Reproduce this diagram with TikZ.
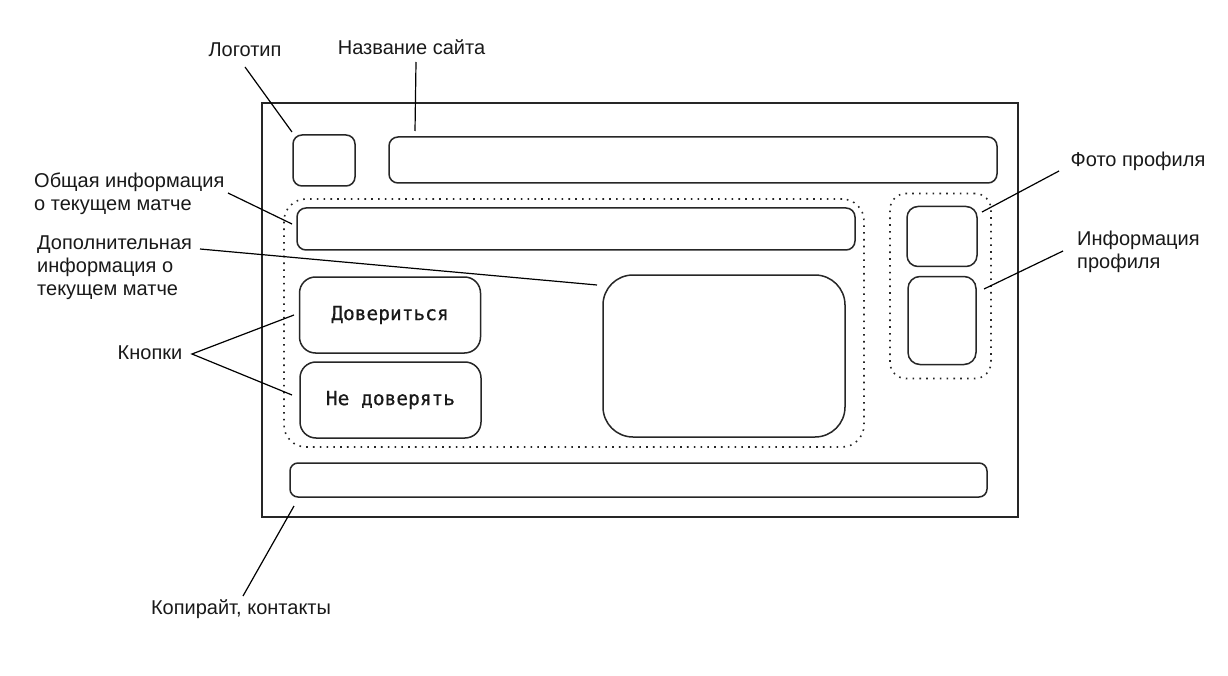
\documentclass[tikz,border=0pt]{standalone}
\usepackage{fontspec}
\setmainfont{Liberation Sans}
\newfontfamily\btnfont[FakeBold=0.6]{DejaVu Sans Mono}
\begin{document}
\begin{tikzpicture}[x=1pt,y=-1pt,
  lbl/.style={font=\fontsize{20}{23}\selectfont, inner sep=0pt, text=black!90},
  rbox/.style={draw=black!85, line width=1.5pt, rounded corners=#1, minimum width=0pt, minimum height=0pt, inner sep=0pt},
  grp/.style={draw=black!85, line width=1.6pt, dash pattern=on 1.6pt off 5.2pt, rounded corners=#1, inner sep=0pt},
  btntext/.style={font=\btnfont\fontsize{19.5}{22}\selectfont, text=black!90},
  lead/.style={draw=black, line width=1.2pt}
]
\useasboundingbox (0,0) rectangle (1228,676);
\fill[white] (0,0) rectangle (1228,676);

% outer frame
\node[draw=black!85, line width=1.6pt, minimum width=756pt, minimum height=414pt, inner sep=0pt] (outer) at (640,310) {};

% header
\node[rbox=9pt, minimum width=62pt, minimum height=51pt] (logo) at (324,160.5) {};
\node[rbox=9pt, minimum width=608pt, minimum height=46pt] (title) at (693,160) {};

% main group
\node[grp=22pt, minimum width=580pt, minimum height=248pt] (grp1) at (574,323) {};
\node[rbox=9pt, minimum width=558pt, minimum height=42pt] (gen) at (576,229) {};
\node[rbox=30pt, minimum width=242pt, minimum height=162pt] (big) at (724,356) {};
\node[rbox=16pt, minimum width=181pt, minimum height=76pt, btntext] (btn1) at (390,315) {Довериться};
\node[rbox=16pt, minimum width=181pt, minimum height=76pt, btntext] (btn2) at (390.5,400) {Не доверять};

% profile group
\node[grp=16pt, minimum width=101pt, minimum height=185pt] (grp2) at (940.5,286) {};
\node[rbox=11pt, minimum width=70pt, minimum height=60pt] (photo) at (942,236.5) {};
\node[rbox=12pt, minimum width=68pt, minimum height=88pt] (pinfo) at (942,320.5) {};

% footer
\node[rbox=8pt, minimum width=697pt, minimum height=34pt] (footer) at (638.5,480) {};

% labels
\node[lbl] (lLogo) at (245,50) {Логотип};
\node[lbl] (lTitle) at (411.5,47) {Название сайта};
\node[lbl, anchor=west, align=left] (lGen) at (34,193.5) {Общая информация\\о текущем матче};
\node[lbl, anchor=west, align=left] (lAdd) at (37,268) {Дополнительная\\информация о\\текущем матче};
\node[lbl] (lBtn) at (150,353) {Кнопки};
\node[lbl] (lPhoto) at (1138,161) {Фото профиля};
\node[lbl, anchor=west, align=left] (lPInfo) at (1077,251.5) {Информация\\профиля};
\node[lbl] (lCopy) at (241,609) {Копирайт, контакты};

% connector end points
\coordinate (cLogoA) at (245,67);
\coordinate (cLogoB) at (292,132);
\coordinate (cTitleA) at (416,62);
\coordinate (cTitleB) at (415,131);
\coordinate (cGenA) at (228,193);
\coordinate (cGenB) at (292,224);
\coordinate (cAddA) at (200,249);
\coordinate (cAddB) at (597,285);
\coordinate (cBtnA) at (192,354);
\coordinate (cBtn1) at (294,315);
\coordinate (cBtn2) at (292,395);
\coordinate (cPhotoA) at (1059,171);
\coordinate (cPhotoB) at (982,212);
\coordinate (cPInfoA) at (1063,251);
\coordinate (cPInfoB) at (984,289);
\coordinate (cCopyA) at (243,596);
\coordinate (cCopyB) at (294,506);

\draw[lead] (cLogoA) -- (cLogoB);
\draw[lead] (cTitleA) -- (cTitleB);
\draw[lead] (cGenA) -- (cGenB);
\draw[lead] (cAddA) -- (cAddB);
\draw[lead] (cBtn1) -- (cBtnA) -- (cBtn2);
\draw[lead] (cPhotoA) -- (cPhotoB);
\draw[lead] (cPInfoA) -- (cPInfoB);
\draw[lead] (cCopyA) -- (cCopyB);
\end{tikzpicture}
\end{document}
